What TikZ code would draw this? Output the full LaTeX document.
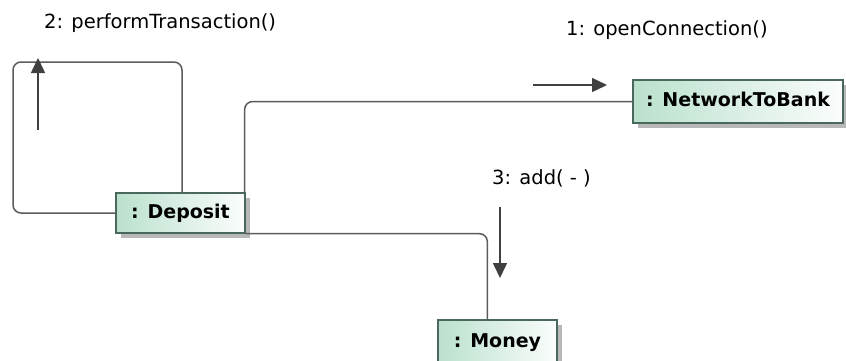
\documentclass[tikz,border=0pt]{standalone}
\usepackage{fontspec}
\setmainfont{DejaVu Sans}
\usetikzlibrary{arrows.meta,shadows,calc}
\definecolor{boxmint}{RGB}{186,225,205}
\definecolor{boxedge}{RGB}{74,104,94}
\definecolor{wiregray}{RGB}{92,92,92}
\definecolor{msggray}{RGB}{64,64,64}
\tikzset{
  objbox/.style={draw=boxedge, line width=1.3pt, left color=boxmint,
    right color=white!94!boxmint, inner sep=0pt,
    font=\fontsize{19}{23}\selectfont\bfseries,
    text height=13.85pt, text depth=3pt,
    drop shadow={shadow xshift=5pt, shadow yshift=-5pt, fill=black!28, opacity=1}},
  wire/.style={draw=wiregray, line width=1.5pt, rounded corners=8pt},
  msg/.style={draw=msggray, line width=1.5pt, -{Triangle[length=15pt,width=14pt]}},
  msglabel/.style={anchor=base west, inner sep=0pt, font=\fontsize{19.5}{23}\selectfont},
}
\begin{document}
\begin{tikzpicture}[x=1pt,y=-1pt]
  \useasboundingbox (0,0) rectangle (846,360);
  \fill[white] (0,0) rectangle (846,360);
  \clip (0,0) rectangle (846,360);

  % objects
  \node[objbox, minimum width=129pt, minimum height=40pt] (dep) at (180.5,213) {: Deposit};
  \node[objbox, minimum width=210pt, minimum height=43pt] (net) at (738,101.5) {: NetworkToBank};
  \node[objbox, minimum width=119pt, minimum height=44pt] (mon) at (497.5,342) {: Money};

  % links
  \coordinate (loopTL) at (13,62);
  \draw[wire] (dep.west) -| (loopTL) -| ($(dep.north)+(1.5,0)$);
  \draw[wire] ($(dep.north east)+(-1,0)$) |- (net.west);
  \draw[wire] (dep.south east) -| ($(mon.north west)+(50,0)$);

  % messages
  \coordinate (m2s) at (38,130);  \coordinate (m2e) at (38,58);
  \coordinate (m1s) at (533,85);  \coordinate (m1e) at (607,85);
  \coordinate (m3s) at (500,207); \coordinate (m3e) at (500,278);
  \draw[msg] (m2s) -- (m2e);
  \draw[msg] (m1s) -- (m1e);
  \draw[msg] (m3s) -- (m3e);

  \node[msglabel] (l2) at (44,28) {2: performTransaction()};
  \node[msglabel] (l1) at (566,35) {1: openConnection()};
  \node[msglabel] (l3) at (492,184) {3: add( - )};
\end{tikzpicture}
\end{document}
